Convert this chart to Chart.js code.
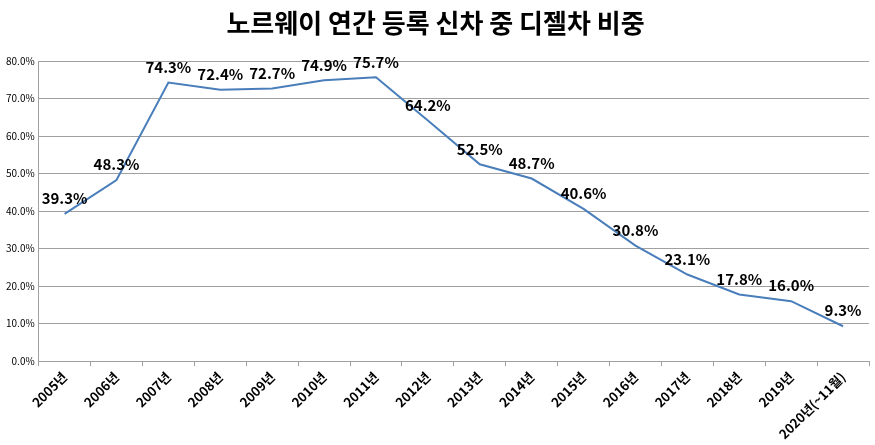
<!DOCTYPE html>
<html>
<head>
<meta charset="utf-8">
<script src="https://cdn.jsdelivr.net/npm/chart.js@4"></script>
<style>
  body { margin: 0; background: #fff; }
  #wrap { width: 875px; height: 445px; }
</style>
</head>
<body>
<div id="wrap"><canvas id="chart"></canvas></div>
<script>
// Norway: share of diesel cars among newly registered cars
const years = ['2005년', '2006년', '2007년', '2008년', '2009년', '2010년', '2011년', '2012년',
    '2013년', '2014년', '2015년', '2016년', '2017년', '2018년', '2019년', '2020년(~11월)'];
const dieselShare = [39.3, 48.3, 74.3, 72.4, 72.7, 74.9, 75.7, 64.2,
    52.5, 48.7, 40.6, 30.8, 23.1, 17.8, 16.0, 9.3];
const yTicks = [0, 10, 20, 30, 40, 50, 60, 70, 80];

const FONT = "'Noto Sans CJK KR', 'Noto Sans', sans-serif";

const valueLabels = {
    id: 'valueLabels',
    afterDatasetsDraw(chart) {
        const ctx = chart.ctx;
        const meta = chart.getDatasetMeta(0);
        ctx.save();
        ctx.fillStyle = '#000';
        ctx.font = 'bold 15px ' + FONT;
        ctx.textAlign = 'center';
        ctx.textBaseline = 'bottom';
        meta.data.forEach((pt, i) => {
            ctx.fillText(dieselShare[i].toFixed(1) + '%', pt.x, pt.y - 8);
        });
        ctx.restore();
    }
};

new Chart(document.getElementById('chart'), {
    type: 'line',
    data: {
        labels: years,
        datasets: [{
            data: dieselShare,
            borderColor: '#4a7ebb',
            borderWidth: 2,
            pointRadius: 0,
            tension: 0
        }]
    },
    options: {
        responsive: true,
        maintainAspectRatio: false,
        animation: false,
        layout: { padding: { left: 2, right: 6, top: 4, bottom: 0 } },
        scales: {
            y: {
                min: 0,
                max: 80,
                afterBuildTicks: axis => { axis.ticks = yTicks.map(v => ({ value: v })); },
                grid: { color: '#a0a0a0', drawTicks: false },
                border: { color: '#a0a0a0' },
                ticks: {
                    color: '#000',
                    padding: 4,
                    font: { size: 10, family: FONT },
                    callback: v => v.toFixed(1) + '%'
                }
            },
            x: {
                offset: true,
                grid: { offset: true, drawOnChartArea: false, drawTicks: true, tickLength: 5, color: '#a0a0a0' },
                border: { color: '#a0a0a0' },
                ticks: {
                    color: '#000',
                    maxRotation: 45,
                    minRotation: 45,
                    autoSkip: false,
                    font: { size: 13, weight: 'bold', family: FONT }
                }
            }
        },
        plugins: {
            legend: { display: false },
            tooltip: { enabled: false },
            title: {
                display: true,
                text: '노르웨이 연간 등록 신차 중 디젤차 비중',
                color: '#000',
                font: { size: 26, weight: 'bold', family: FONT },
                padding: { top: 4, bottom: 22 }
            }
        }
    },
    plugins: [valueLabels]
});
</script>
</body>
</html>
